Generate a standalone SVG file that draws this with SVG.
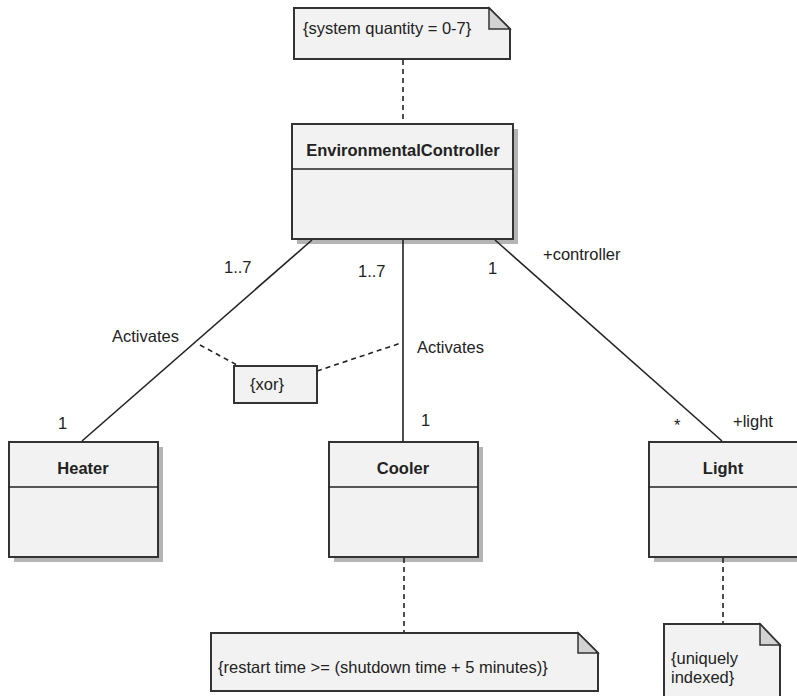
<svg xmlns="http://www.w3.org/2000/svg" width="797" height="696" viewBox="0 0 797 696">
<style>
text{font-family:"Liberation Sans",Arial,sans-serif;font-size:16.5px;fill:#222}
.b{font-weight:bold;text-anchor:middle}
.box{fill:#f2f2f2;stroke:#333;stroke-width:2}
.sh{fill:#b4b4b4}
.fold{fill:#d2d2d2;stroke:#333;stroke-width:1.5}
.ln{stroke:#222;stroke-width:1.6;fill:none}
.dl{stroke:#222;stroke-width:1.6;fill:none;stroke-dasharray:5,4}
</style>
<rect width="797" height="696" fill="#fff"/>
<g id="note-system">
<path class="box" d="M294 8H489L510 29V59H294Z"/>
<path class="fold" d="M489 8V29H510Z"/>
<text x="303" y="34">{system quantity = 0-7}</text>
</g>
<g id="EnvironmentalController">
<rect class="sh" x="297" y="129" width="221" height="115"/>
<rect class="box" x="292" y="124" width="221" height="115"/>
<line class="ln" x1="292" y1="169" x2="513" y2="169"/>
<text class="b" x="403" y="156">EnvironmentalController</text>
</g>
<g id="xor">
<rect class="box" x="234" y="366" width="83" height="37"/>
<text x="250" y="390">{xor}</text>
</g>
<g id="Heater">
<rect class="sh" x="14" y="447" width="149" height="115"/>
<rect class="box" x="9" y="442" width="149" height="115"/>
<line class="ln" x1="9" y1="487" x2="158" y2="487"/>
<text class="b" x="83" y="474">Heater</text>
</g>
<g id="Cooler">
<rect class="sh" x="334" y="447" width="149" height="115"/>
<rect class="box" x="329" y="442" width="149" height="115"/>
<line class="ln" x1="329" y1="487" x2="478" y2="487"/>
<text class="b" x="403" y="474">Cooler</text>
</g>
<g id="Light">
<rect class="sh" x="654" y="447" width="149" height="115"/>
<rect class="box" x="649" y="442" width="149" height="115"/>
<line class="ln" x1="649" y1="487" x2="798" y2="487"/>
<text class="b" x="723" y="474">Light</text>
</g>
<g id="note-cooler">
<path class="box" d="M211 633H578L598 653V691H211Z"/>
<path class="fold" d="M578 633V653H598Z"/>
<text x="218" y="673">{restart time &gt;= (shutdown time + 5 minutes)}</text>
</g>
<g id="note-light">
<path class="box" d="M664 624H760L780 645V700H664Z"/>
<path class="fold" d="M760 624V645H780Z"/>
<text x="671" y="664">{uniquely</text>
<text x="671" y="683">indexed}</text>
</g>
<g id="connectors">
<line class="dl" x1="403" y1="60" x2="403" y2="123"/>
<line class="ln" x1="312" y1="240" x2="82" y2="441"/>
<line class="ln" x1="403" y1="240" x2="403" y2="441"/>
<line class="ln" x1="495" y1="240" x2="722" y2="441"/>
<line class="dl" x1="200" y1="345" x2="237" y2="365"/>
<line class="dl" x1="317" y1="371" x2="401" y2="343"/>
<line class="dl" x1="404" y1="558" x2="404" y2="632"/>
<line class="dl" x1="723" y1="558" x2="723" y2="623"/>
<text x="224" y="273">1..7</text>
<text x="358" y="277">1..7</text>
<text x="488" y="274">1</text>
<text x="543" y="260">+controller</text>
<text x="112" y="342">Activates</text>
<text x="417" y="353">Activates</text>
<text x="58" y="429">1</text>
<text x="421" y="426">1</text>
<text x="674" y="431">*</text>
<text x="733" y="427">+light</text>
</g>
</svg>
